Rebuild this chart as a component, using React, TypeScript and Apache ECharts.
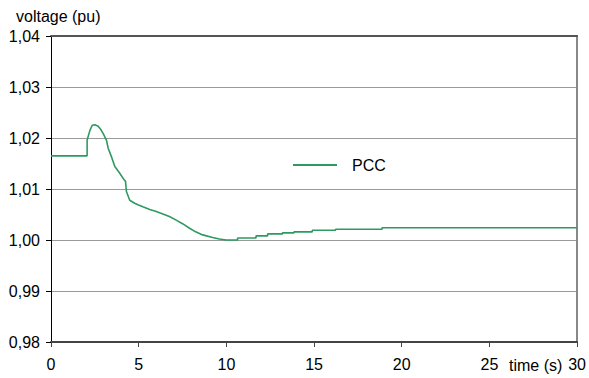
import React, { useEffect, useRef } from "react";
import * as echarts from "echarts";

// Time (s) and PCC voltage (pu) samples of the step response
const timeS: number[] = [
  0, 2.06, 2.06, 2.22, 2.35, 2.5, 2.69, 2.85, 2.97, 3.16, 3.26, 3.45, 3.64, 3.92, 4.17, 4.25, 4.3,
  4.49, 4.77, 4.96, 5.24, 5.63, 6.0, 6.38, 6.75, 7.14, 7.5, 7.9, 8.25, 8.65, 9.22, 9.6, 9.98,
  10.64, 10.64, 11.69, 11.69, 12.35, 12.35, 13.2, 13.2, 13.86, 13.86, 14.9, 14.9, 16.23, 16.23,
  18.88, 18.88, 30,
];
const pccVoltage: number[] = [
  1.0165, 1.0165, 1.0196, 1.0215, 1.0225, 1.0226, 1.0223, 1.0216, 1.0209, 1.0196, 1.018, 1.0163,
  1.0144, 1.0131, 1.0118, 1.0115, 1.0095, 1.0078, 1.0072, 1.0069, 1.0065, 1.006, 1.0056, 1.0051,
  1.0046, 1.0039, 1.0032, 1.0023, 1.0016, 1.001, 1.0005, 1.0002, 1.0, 1.0, 1.0004, 1.0004, 1.0008,
  1.0008, 1.0012, 1.0012, 1.0014, 1.0014, 1.0016, 1.0016, 1.0019, 1.0019, 1.0021, 1.0021, 1.0024,
  1.0024,
];
const seriesName = "PCC";
const yAxisTitle = "voltage (pu)";
const xAxisTitle = "time (s)";

const FONT = "'Liberation Sans', Arial, sans-serif";
const FS = 16;

export default function App() {
  const ref = useRef<HTMLDivElement>(null);

  useEffect(() => {
    if (!ref.current) return;
    const chart = echarts.init(ref.current, undefined, { renderer: "svg" });
    const points = timeS.map((t, i) => [t, pccVoltage[i]]);
    const comma = (v: number) => v.toFixed(2).replace(".", ",");

    chart.setOption({
      animation: false,
      backgroundColor: "#ffffff",
      textStyle: { fontFamily: FONT, color: "#000" },
      grid: { left: 51, right: 10, top: 36, bottom: 36, containLabel: false },
      legend: {
        data: [seriesName],
        left: 288,
        top: 152,
        icon: "rect",
        itemWidth: 44,
        itemHeight: 2,
        textStyle: { fontFamily: FONT, fontSize: FS, color: "#000", padding: [0, 0, 0, 10] },
      },
      xAxis: [
        {
          type: "value",
          min: 0,
          max: 30,
          interval: 5,
          axisLine: { show: true, lineStyle: { color: "#444", width: 2 } },
          axisTick: { show: true, length: 5, lineStyle: { color: "#444", width: 1 } },
          axisLabel: {
            fontFamily: FONT,
            fontSize: FS,
            color: "#000",
            margin: 14,
            formatter: (v: number) => String(v),
          },
          splitLine: { show: false },
        },
        {
          type: "value",
          position: "top",
          min: 0,
          max: 30,
          axisLine: { show: true, lineStyle: { color: "#555", width: 2 } },
          axisTick: { show: false },
          axisLabel: { show: false },
          splitLine: { show: false },
        },
      ],
      yAxis: [
        {
          type: "value",
          min: 0.98,
          max: 1.04,
          interval: 0.01,
          axisLine: { show: true, onZero: false, lineStyle: { color: "#000", width: 1 } },
          axisTick: { show: true, length: 5, lineStyle: { color: "#000" } },
          axisLabel: {
            fontFamily: FONT,
            fontSize: FS,
            color: "#000",
            margin: 11,
            formatter: comma,
          },
          splitLine: { show: true, lineStyle: { color: "#9a9a9a", width: 1 } },
        },
        {
          type: "value",
          position: "right",
          min: 0.98,
          max: 1.04,
          axisLine: { show: true, onZero: false, lineStyle: { color: "#888", width: 2 } },
          axisTick: { show: false },
          axisLabel: { show: false },
          splitLine: { show: false },
        },
      ],
      graphic: [
        {
          type: "text",
          left: 16,
          top: 8,
          style: { text: yAxisTitle, font: `${FS}px ${FONT}`, fill: "#000" },
        },
        {
          type: "text",
          left: 509,
          top: 357,
          style: { text: xAxisTitle, font: `${FS}px ${FONT}`, fill: "#000" },
        },
      ],
      series: [
        {
          name: seriesName,
          type: "line",
          xAxisIndex: 0,
          yAxisIndex: 0,
          data: points,
          showSymbol: false,
          symbol: "none",
          lineStyle: { color: "#2f9a60", width: 1.6 },
          itemStyle: { color: "#2f9a60" },
        },
      ],
    });

    return () => chart.dispose();
  }, []);

  return (
    <div
      ref={ref}
      style={{ position: "fixed", left: 0, top: 0, width: 589, height: 378 }}
    />
  );
}
